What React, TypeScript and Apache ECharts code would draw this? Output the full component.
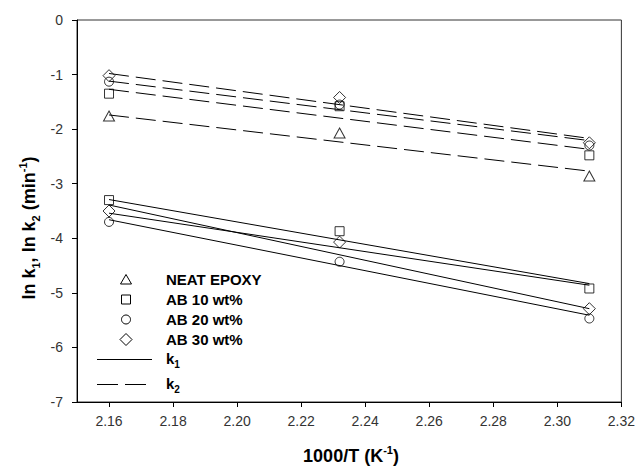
import React, { useEffect, useRef } from "react";
import * as echarts from "echarts";

// ---- data ----
const xValues = [2.16, 2.232, 2.31];
const fitX = [2.16, 2.31];
const seriesNames = ["NEAT EPOXY", "AB 10 wt%", "AB 20 wt%", "AB 30 wt%"];

// k1 (solid lines) measured points; NEAT EPOXY k1 has no markers drawn
const k1Neat: number[] = [];
const k1Ab10 = [-3.3, -3.87, -4.92];
const k1Ab20 = [-3.7, -4.43, -5.47];
const k1Ab30 = [-3.5, -4.07, -5.29];

// k2 (dashed lines) measured points
const k2Neat = [-1.76, -2.07, -2.86];
const k2Ab10 = [-1.35, -1.58, -2.48];
const k2Ab20 = [-1.13, -1.55, -2.3];
const k2Ab30 = [-1.02, -1.42, -2.25];

// fitted lines, value at 2.16 and at 2.31 (order: neat, ab10, ab20, ab30)
const k1FitStart = [-3.54, -3.29, -3.66, -3.39];
const k1FitEnd = [-4.86, -4.83, -5.41, -5.29];
const k2FitStart = [-1.74, -1.27, -1.12, -0.98];
const k2FitEnd = [-2.77, -2.37, -2.21, -2.17];

const xTicks = [2.16, 2.18, 2.2, 2.22, 2.24, 2.26, 2.28, 2.3, 2.32];

const FONT = "Liberation Sans, Arial, sans-serif";
const symbols = ["triangle", "rect", "circle", "diamond"];
const symbolSizes: any[] = [[11, 10], 9, 9, 12];

export default function App() {
  const ref = useRef<HTMLDivElement>(null);
  useEffect(() => {
    if (!ref.current) return;
    const chart = echarts.init(ref.current, undefined, { renderer: "svg" });
    const k1Sets = [k1Neat, k1Ab10, k1Ab20, k1Ab30];
    const k2Sets = [k2Neat, k2Ab10, k2Ab20, k2Ab30];
    const series: any[] = [];
    seriesNames.forEach((name, i) => {
      series.push({
        name: name + " k1 fit",
        type: "line",
        data: fitX.map((x, j) => [x, j === 0 ? k1FitStart[i] : k1FitEnd[i]]),
        symbol: "none",
        silent: true,
        lineStyle: { color: "#000", width: 1, type: "solid" },
      });
      series.push({
        name: name + " k2 fit",
        type: "line",
        data: fitX.map((x, j) => [x, j === 0 ? k2FitStart[i] : k2FitEnd[i]]),
        symbol: "none",
        silent: true,
        lineStyle: { color: "#000", width: 1, type: [20, 7] },
      });
      const pts = [
        ...k1Sets[i].map((y, j) => [xValues[j], y]),
        ...k2Sets[i].map((y, j) => [xValues[j], y]),
      ];
      series.push({
        name,
        type: "scatter",
        data: pts,
        symbol: symbols[i],
        symbolSize: symbolSizes[i],
        silent: true,
        itemStyle: { color: "rgba(255,255,255,0)", borderColor: "#000", borderWidth: 1 },
      });
    });

    const legendY = [279.5, 299.5, 319.5, 339.5];
    const sx = 126;
    const stroke = { fill: "none", stroke: "#000", lineWidth: 1 };
    const graphic: any[] = [
      {
        type: "polygon",
        shape: { points: [[120.5, legendY[0] + 4.5], [126, legendY[0] - 5], [131.5, legendY[0] + 4.5]] },
        style: stroke,
      },
      { type: "rect", shape: { x: sx - 4.5, y: legendY[1] - 4.5, width: 9, height: 9 }, style: stroke },
      { type: "circle", shape: { cx: sx, cy: legendY[2], r: 4.5 }, style: stroke },
      {
        type: "polygon",
        shape: { points: [[sx, legendY[3] - 6], [sx + 6, legendY[3]], [sx, legendY[3] + 6], [sx - 6, legendY[3]]] },
        style: stroke,
      },
      { type: "line", shape: { x1: 97, y1: 359.5, x2: 152, y2: 359.5 }, style: { stroke: "#000", lineWidth: 1 } },
      {
        type: "line",
        shape: { x1: 97, y1: 384.5, x2: 146, y2: 384.5 },
        style: { stroke: "#000", lineWidth: 1, lineDash: [21, 7] },
      },
      ...seriesNames.map((n, i) => ({
        type: "text",
        x: 166,
        y: legendY[i],
        style: {
          text: n,
          font: "bold 15px " + FONT,
          fill: "#000",
          align: "left",
          verticalAlign: "middle",
        },
      })),
      ...[
        ["1", 358],
        ["2", 383],
      ].map(([s, y]) => ({
        type: "text",
        x: 166,
        y: y as number,
        style: {
          text: "{n|k}{s|" + s + "}",
          align: "left",
          verticalAlign: "middle",
          rich: {
            n: { fontSize: 15, fontWeight: "bold", fontFamily: FONT, lineHeight: 22, fill: "#000" },
            s: { fontSize: 10, fontWeight: "bold", fontFamily: FONT, lineHeight: 10, verticalAlign: "bottom", fill: "#000" },
          },
        },
      })),
      {
        type: "text",
        x: 29,
        y: 228,
        rotation: Math.PI / 2,
        style: {
          text: "{n|ln k}{s|1}{n|, ln k}{s|2}{n| (min}{p|-1}{n|)}",
          align: "center",
          verticalAlign: "middle",
          rich: {
            n: { fontSize: 18, fontWeight: "bold", fontFamily: FONT, lineHeight: 24, fill: "#000" },
            s: { fontSize: 11, fontWeight: "bold", fontFamily: FONT, lineHeight: 11, verticalAlign: "bottom", fill: "#000" },
            p: { fontSize: 11, fontWeight: "bold", fontFamily: FONT, lineHeight: 11, verticalAlign: "top", fill: "#000" },
          },
        },
      },
      {
        type: "text",
        x: 351,
        y: 456,
        style: {
          text: "{n|1000/T (K}{p|-1}{n|)}",
          align: "center",
          verticalAlign: "middle",
          rich: {
            n: { fontSize: 18, fontWeight: "bold", fontFamily: FONT, lineHeight: 24, fill: "#000" },
            p: { fontSize: 11, fontWeight: "bold", fontFamily: FONT, lineHeight: 11, verticalAlign: "top", fill: "#000" },
          },
        },
      },
    ];

    chart.setOption({
      animation: false,
      backgroundColor: "#fff",
      textStyle: { fontFamily: FONT },
      grid: {
        left: 77,
        top: 20,
        right: 15,
        bottom: 66,
        show: true,
        borderColor: "#333",
        borderWidth: 1,
        backgroundColor: "transparent",
      },
      xAxis: {
        type: "value",
        min: 2.15,
        max: 2.32,
        axisLine: { onZero: false, lineStyle: { color: "#000", width: 1 } },
        axisTick: { customValues: xTicks, length: 5, lineStyle: { color: "#000" } },
        axisLabel: {
          customValues: xTicks,
          formatter: (v: number) => v.toFixed(2),
          fontSize: 14,
          color: "#333",
          margin: 12,
        },
        splitLine: { show: false },
      },
      yAxis: {
        type: "value",
        min: -7,
        max: 0,
        interval: 1,
        axisLine: { show: true, onZero: false, lineStyle: { color: "#000", width: 1 } },
        axisTick: { show: true, length: 5, lineStyle: { color: "#000" } },
        axisLabel: { fontSize: 14, color: "#333", margin: 14 },
        splitLine: { show: false },
      },
      series,
      graphic,
    });
    return () => chart.dispose();
  }, []);
  return (
    <div
      ref={ref}
      style={{ position: "fixed", left: 0, top: 0, width: 638, height: 468, background: "#fff" }}
    />
  );
}
